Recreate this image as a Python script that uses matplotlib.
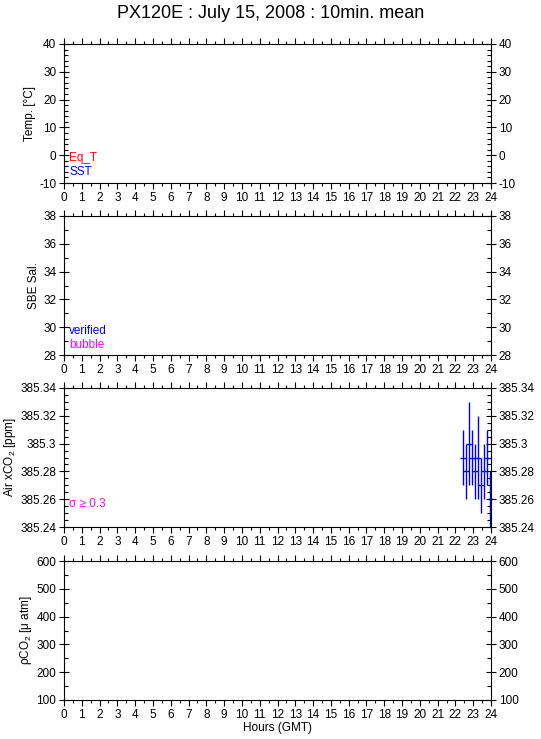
import matplotlib
matplotlib.use('Agg')
import matplotlib.pyplot as plt
from matplotlib.ticker import MultipleLocator, FuncFormatter

plt.rcParams['font.family'] = ['Liberation Sans', 'DejaVu Sans']
plt.rcParams['mathtext.fontset'] = 'custom'
plt.rcParams['mathtext.rm'] = 'Liberation Sans'
plt.rcParams['mathtext.it'] = 'Liberation Sans:italic'

# 10-min means of air xCO2 (hours GMT)
air_hours = [22.417, 22.583, 22.75, 22.917, 23.083, 23.25, 23.417, 23.583, 23.75, 23.917]
air_mean = [385.29, 385.28, 385.30, 385.29, 385.28, 385.29, 385.27, 385.28, 385.29, 385.26]
air_sd = [0.02, 0.02, 0.03, 0.02, 0.02, 0.03, 0.02, 0.02, 0.02, 0.02]

hour_ticks = list(range(0, 25))

# panel settings: (ylabel, ylim, major, minor)
panels = [
    ('Temp. [°C]', (-10, 40), 10, 2),
    ('SBE Sal.', (28, 38), 2, 1),
    ('Air xCO$_2$ [ppm]', (385.24, 385.34), 0.02, 0.005),
    ('ρCO$_2$ [μ atm]', (100, 600), 100, 50),
]

def fmt(v, p):
    if abs(v) > 1000 or (abs(v) > 1 and v != int(v)):
        return ('%.3f' % v).rstrip('0').rstrip('.')
    return '%g' % v

W, H = 541, 739
fig = plt.figure(figsize=(W / 100, H / 100), dpi=100)
fig.text(0.5, 1 - 13 / H, 'PX120E : July 15, 2008 : 10min. mean',
         ha='center', va='center', fontsize=13)

tops = [44, 216, 388, 561]
axes = []
for i, (lab, ylim, maj, mnr) in enumerate(panels):
    top = tops[i]
    ax = fig.add_axes([64 / W, 1 - (top + 139) / H, 427 / W, 139 / H])
    ax.set_xlim(0, 24)
    ax.set_ylim(*ylim)
    ax.set_xticks(hour_ticks)
    ax.xaxis.set_minor_locator(MultipleLocator(0.5))
    ax.yaxis.set_major_locator(MultipleLocator(maj))
    ax.yaxis.set_minor_locator(MultipleLocator(mnr))
    ax.tick_params(axis='x', which='major', direction='out', length=4.5, width=0.8,
                   top=True, bottom=True, labelsize=8.5, pad=2)
    ax.tick_params(axis='x', which='minor', direction='out', length=2.5, width=0.8,
                   top=True, bottom=True)
    ax.tick_params(axis='y', which='major', direction='inout', length=7, width=0.8,
                   left=True, right=True, labelleft=True, labelright=True,
                   labelsize=8.5, pad=2)
    ax.tick_params(axis='y', which='minor', direction='in', length=3, width=0.8,
                   left=True, right=True)
    ax.yaxis.set_major_formatter(FuncFormatter(fmt))
    for s in ax.spines.values():
        s.set_linewidth(0.8)
    ax.set_ylabel(lab, fontsize=8.5, labelpad=2)
    axes.append(ax)

# legend-like labels
lx = 0.012
axes[0].text(lx, 0.18, 'Eq_T', color='red', fontsize=8.5, transform=axes[0].transAxes, va='center')
axes[0].text(lx, 0.08, 'SST', color='blue', fontsize=8.5, transform=axes[0].transAxes, va='center')
axes[1].text(lx, 0.173, 'verified', color='blue', fontsize=8.5, transform=axes[1].transAxes, va='center')
axes[1].text(lx, 0.072, 'bubble', color='magenta', fontsize=8.5, transform=axes[1].transAxes, va='center')
axes[2].text(lx, 0.165, 'σ ≥ 0.3', color='magenta', fontsize=8.5, transform=axes[2].transAxes, va='center')

axes[2].errorbar(air_hours, air_mean, yerr=air_sd, fmt='_', color='blue',
                 ecolor='blue', elinewidth=1.0, markersize=4, markeredgewidth=1.0,
                 capsize=0, clip_on=False)

axes[3].set_xlabel('Hours (GMT)', fontsize=8.5, labelpad=1)

fig.savefig('out.png', dpi=100)
